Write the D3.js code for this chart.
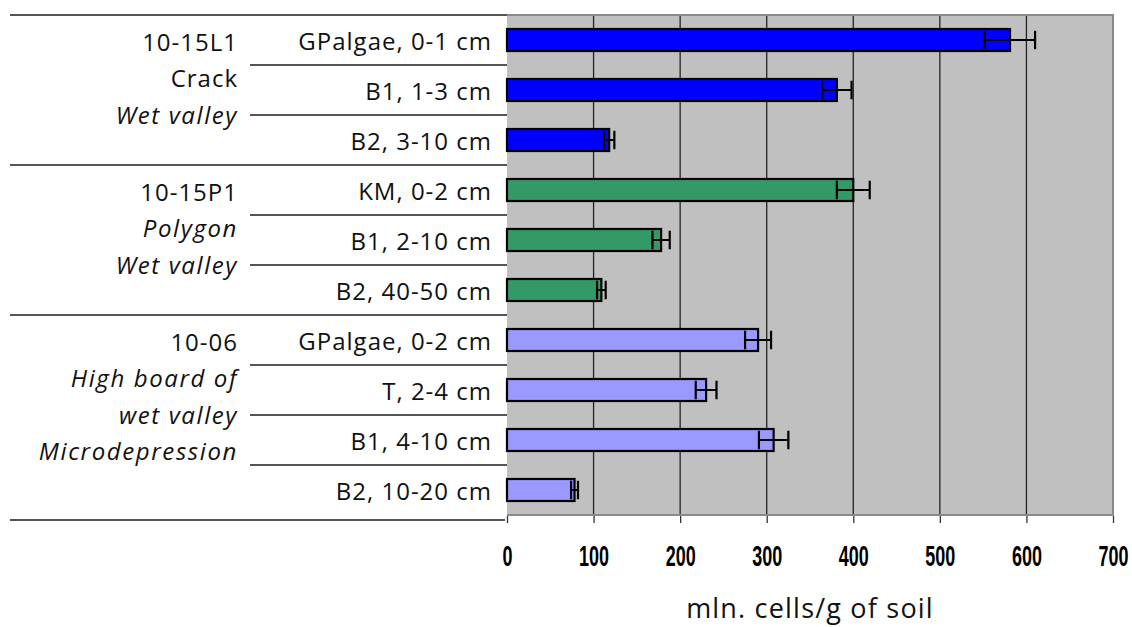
<!DOCTYPE html>
<html>
<head>
<meta charset="utf-8">
<script src="https://cdn.jsdelivr.net/npm/d3@7"></script>
<style>
  html, body { margin: 0; padding: 0; background: #fff; }
  svg { display: block; }
  .lbl { font-family: "Open Sans", Lato, sans-serif; font-size: 24px; fill: #111; letter-spacing: 1px; }
  .lbl.it { font-style: italic; letter-spacing: 1.6px; }
  .tick-lbl { font-family: "Liberation Sans", Arial, sans-serif; font-weight: bold; font-size: 29px; fill: #000; }
</style>
</head>
<body>
<svg id="chart" width="1132" height="627"></svg>
<script>
// Samples (top to bottom), their counts and standard errors
const categories = [
  "GPalgae, 0-1 cm", "B1, 1-3 cm", "B2, 3-10 cm",
  "KM, 0-2 cm", "B1, 2-10 cm", "B2, 40-50 cm",
  "GPalgae, 0-2 cm", "T, 2-4 cm", "B1, 4-10 cm", "B2, 10-20 cm"
];
const values = [581, 381, 118, 400, 178, 109, 290, 230, 308, 78];
const errors = [29, 17, 6, 19, 10, 5, 15, 12, 17, 4];
const siteOf = [0, 0, 0, 1, 1, 1, 2, 2, 2, 2];

// Site groups: label lines (text, italic?)
const siteLabels = [
  [["10-15L1", false], ["Crack", false], ["Wet valley", true]],
  [["10-15P1", false], ["Polygon", true], ["Wet valley", true]],
  [["10-06", false], ["High board of", true], ["wet valley", true], ["Microdepression", true]]
];
const siteColors = ["#0000ff", "#339966", "#9999ff"];
const tickValues = [0, 100, 200, 300, 400, 500, 600, 700];
const axisTitle = "mln. cells/g of soil";

const svg = d3.select("#chart");

const plotLeft = 507, plotRight = 1113, plotTop = 15, plotBottom = 515;
const x = d3.scaleLinear().domain([0, 700]).range([plotLeft, plotRight]);
const y = d3.scaleBand().domain(categories).range([plotTop, plotBottom]).padding(0);
const barH = y.bandwidth() * 0.44;

// Plot background
svg.append("rect")
  .attr("x", plotLeft).attr("y", plotTop)
  .attr("width", plotRight - plotLeft).attr("height", plotBottom - plotTop)
  .attr("fill", "#c0c0c0");

// Vertical gridlines
svg.append("g").selectAll("line")
  .data(tickValues.filter(v => v > 0 && v < 700))
  .join("line")
  .attr("x1", d => x(d)).attr("x2", d => x(d))
  .attr("y1", plotTop).attr("y2", plotBottom)
  .attr("stroke", "#222").attr("stroke-width", 1.3);

// Plot frame (top, right, bottom)
svg.append("path")
  .attr("d", `M${plotLeft},${plotTop}H${plotRight}V${plotBottom}H${plotLeft}`)
  .attr("fill", "none").attr("stroke", "#8a8a8a").attr("stroke-width", 2);

// Bottom axis with tick marks below the plot; condensed bold numerals
const axis = d3.axisBottom(x).tickValues(tickValues).tickSize(7).tickFormat(d3.format("d"));
const gAxis = svg.append("g").attr("transform", `translate(0,${plotBottom + 1})`).call(axis);
gAxis.select(".domain").remove();
gAxis.selectAll(".tick line").attr("stroke", "#333").attr("stroke-width", 1.3);
gAxis.selectAll(".tick text")
  .attr("class", "tick-lbl")
  .attr("fill", "#000")
  .attr("y", 0).attr("dy", null)
  .attr("transform", "translate(0,50) scale(0.62,1)");

// Axis title
svg.append("text")
  .attr("class", "lbl")
  .attr("x", x(350)).attr("y", 618)
  .attr("text-anchor", "middle")
  .style("font-size", "27px")
  .style("letter-spacing", "1.2px")
  .text(axisTitle);

// Bars
svg.append("g").selectAll("rect")
  .data(categories)
  .join("rect")
  .attr("x", x(0))
  .attr("y", d => y(d) + (y.bandwidth() - barH) / 2)
  .attr("width", (d, i) => x(values[i]) - x(0))
  .attr("height", barH)
  .attr("fill", (d, i) => siteColors[siteOf[i]])
  .attr("stroke", "#000").attr("stroke-width", 2.2);

// Error bars
const capH = barH * 0.85;
const eg = svg.append("g").attr("stroke", "#000").attr("stroke-width", 2.2).attr("fill", "none");
categories.forEach((c, i) => {
  const cy = y(c) + y.bandwidth() / 2;
  const lo = x(values[i] - errors[i]), hi = x(values[i] + errors[i]);
  eg.append("path")
    .attr("d", `M${lo},${cy}H${hi}M${lo},${cy - capH / 2}V${cy + capH / 2}M${hi},${cy - capH / 2}V${cy + capH / 2}`);
});

// Category labels
svg.append("g").selectAll("text")
  .data(categories)
  .join("text")
  .attr("class", "lbl")
  .attr("x", 492)
  .attr("y", d => y(d) + y.bandwidth() / 2 + 10)
  .attr("text-anchor", "end")
  .text(d => d);

// Table lines: row separators within a site, full-width lines between sites
const lineColor = "#555";
const groupStarts = [0, 3, 6];
categories.forEach((c, i) => {
  if (i === 0) return;
  const yy = y(c);
  const full = groupStarts.includes(i);
  svg.append("line")
    .attr("x1", full ? 10 : 250).attr("x2", plotLeft)
    .attr("y1", yy).attr("y2", yy)
    .attr("stroke", lineColor).attr("stroke-width", full ? 2 : 1.8);
});
svg.append("line").attr("x1", 10).attr("x2", plotLeft).attr("y1", plotTop).attr("y2", plotTop)
  .attr("stroke", lineColor).attr("stroke-width", 2);
svg.append("line").attr("x1", 10).attr("x2", plotLeft - 2).attr("y1", plotBottom + 5).attr("y2", plotBottom + 5)
  .attr("stroke", lineColor).attr("stroke-width", 2);

// Site labels
const lineStep = 36.5;
siteLabels.forEach((lines, g) => {
  const top = y(categories[groupStarts[g]]);
  lines.forEach(([t, it], k) => {
    svg.append("text")
      .attr("class", it ? "lbl it" : "lbl")
      .attr("x", 238)
      .attr("y", top + 35.5 + k * lineStep)
      .attr("text-anchor", "end")
      .text(t);
  });
});
</script>
</body>
</html>
